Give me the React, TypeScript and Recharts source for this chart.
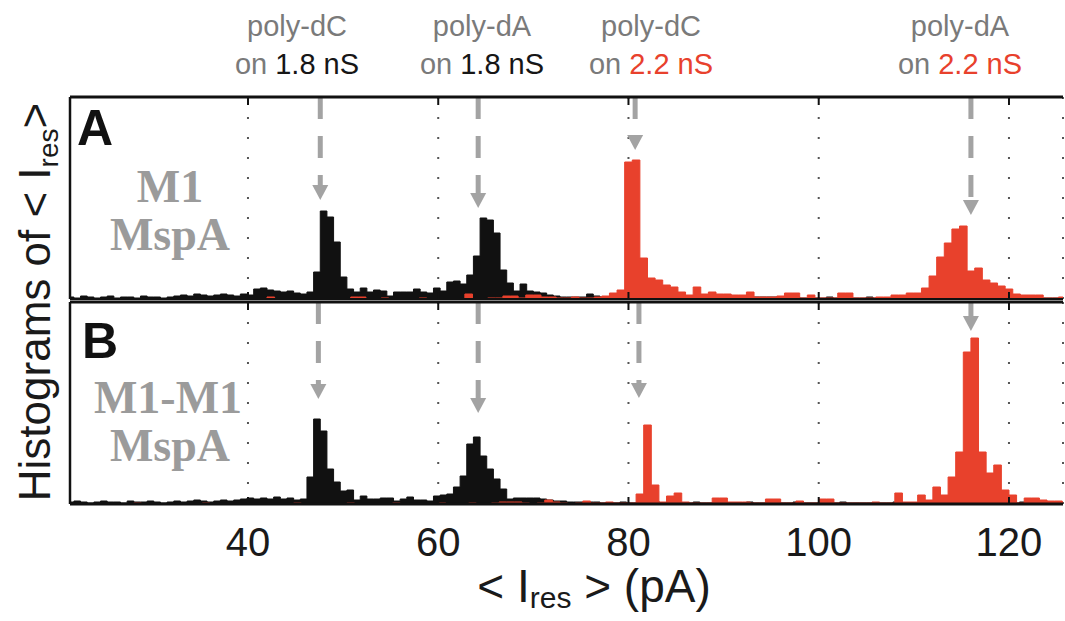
import { AreaChart, Area, XAxis, YAxis, CartesianGrid, ReferenceLine, ReferenceDot } from 'recharts'

// histogram bins (pA)
const BLACK_START = 21.0
const BLACK_BIN = 0.7
const RED_BIN = 0.8
const RED_START_A = 21.2
const RED_START_B = 21.6

const X_DOMAIN = [21.29, 125.68]
const Y_MAX = 202
const xTicks = [40, 60, 80, 100, 120]

// panel A, M1 MspA, 1.8 nS pores (black)
const blackA = [
  2, 1, 3, 2, 1, 2, 3, 1, 2, 2, 1, 3, 2, 2, 1, 2,
  3, 4, 3, 5, 4, 3, 4, 5, 4, 3, 5,
  4, 10, 11, 9, 8, 7, 8, 6, 5, 7,
  27, 88, 82, 57, 22, 10, 7, 11, 7, 9, 8, 3, 7, 7, 7, 10, 7, 6, 11, 8,
  17, 18, 15, 24, 43, 81, 79, 66, 29, 16, 8, 15, 8, 7, 6, 4, 3, 2, 2, 2, 2, 5, 3, 2, 2,
  1, 1, 3, 3, 3, 3,
  1, 2, 1, 1, 2, 1, 1, 1, 2, 1, 1, 1, 2, 1, 1,
  2, 2, 2, 2,
  1, 1, 2, 1, 1, 1, 1, 2, 1, 1, 1, 1, 1, 2, 1, 1, 1, 1, 1, 1, 2, 1, 1, 1, 1, 1, 1, 1,
  2, 3, 2,
  1, 1, 1, 1, 1, 2, 1, 1, 1, 1, 1, 1,
]

// panel A, 2.2 nS pores (red)
const redA = [
  0, 0, 0, 0, 0, 0, 0, 0, 0, 0, 0, 0, 0, 0, 0, 0, 0, 0, 0, 0, 0, 0, 0, 0, 0, 0,
  2,
  0, 0, 0, 0, 0, 0, 0, 0, 0, 0,
  2, 2,
  0, 0, 1, 0, 0, 0, 0, 1, 0, 0, 0, 0, 0,
  5,
  0, 0, 1, 1,
  3, 3,
  1,
  4, 4,
  2, 2,
  1, 1, 2, 1, 1,
  2, 3, 6, 9,
  137, 139, 41, 21, 19, 14, 12, 7, 4, 12, 5, 7,
  5, 5, 4, 4, 7, 2, 2, 2, 3, 6, 6, 1, 4, 1, 1, 1,
  6, 6, 1, 1, 1, 2, 2, 4, 4, 6, 6,
  11, 23, 42, 56, 70, 73, 28, 31, 19, 16, 13, 10, 5, 4, 4, 4, 1, 1, 2,
]

// panel B, M1-M1 MspA, 1.8 nS pores (black)
const blackB = [
  2, 3, 2, 1, 2, 3, 2, 2, 1, 3, 2, 2, 3, 2, 1, 2, 3, 2, 3, 4, 3, 2, 3, 4, 3, 4, 5,
  6, 5, 6, 5, 7, 5, 6, 4, 5,
  27, 85, 73, 35, 22, 13, 14, 4, 8, 5, 5, 6, 6, 3, 5, 7, 4, 4, 3, 8, 9, 10,
  17, 28, 60, 67, 48, 35, 25, 15, 5,
  6, 6, 6, 6, 5, 4, 3, 3, 2,
  2, 2, 2, 2,
  1, 1, 1, 2, 1, 1, 1, 1, 2, 1, 1, 1, 1, 1, 2, 1, 1, 1, 1, 1,
  1, 1, 2, 1, 1, 1, 1, 1, 1, 2, 1, 1, 1, 1, 1, 1, 2, 1, 1, 1, 1, 1, 1, 1, 2, 1, 1, 1, 1, 1,
  1, 1, 2, 1, 1, 1, 2, 1, 1, 1, 1, 1, 1, 2, 1, 1, 1, 1, 1, 1,
]

// panel B, 2.2 nS pores (red)
const redB = [
  0, 0, 0, 0, 0, 0, 0, 0, 1, 0, 0, 0, 0, 0, 0, 0, 0, 1, 0, 0, 0, 0, 0, 0, 0, 0, 0, 0,
  0, 1, 0, 0, 0, 0, 0, 0, 1, 0, 0, 0, 0, 0, 1, 0, 0, 0, 0, 0, 1, 0, 0, 0, 1, 0, 0, 1,
  2, 2, 2,
  1, 0, 1,
  4, 2,
  1, 0, 1, 3,
  1, 1, 2, 1, 1, 1,
  10, 79, 19, 2, 8, 11, 2,
  1, 1, 1, 6, 6, 2, 2, 2, 1, 1,
  5, 5, 1, 1, 3, 1, 1, 5, 5, 1,
  1, 1, 1, 1, 2, 1, 1, 11, 2, 2,
  9, 4, 17, 9, 27, 52, 152, 166, 52, 31, 39, 14, 9,
  1, 6, 6, 4, 3, 3, 2,
]

// dashed arrows: position (pA) and tip height
const arrowXA = [47.6, 64.2, 80.7, 116.0]
const arrowTipA = [99, 91, 149, 84]
const arrowXB = [47.4, 64.2, 81.1, 116.0]
const arrowTipB = [105, 91, 106, 173]

const topLabels = [
  { x: 297, name: 'poly-dC', cond: '1.8 nS', color: '#161616' },
  { x: 482, name: 'poly-dA', cond: '1.8 nS', color: '#161616' },
  { x: 651, name: 'poly-dC', cond: '2.2 nS', color: '#e8412c' },
  { x: 960, name: 'poly-dA', cond: '2.2 nS', color: '#e8412c' },
]

const SANS = "'Liberation Sans', Arial, Helvetica, sans-serif"
const SERIF = "'Liberation Serif', 'Times New Roman', serif"
const RED = '#e8412c'
const BLACK = '#111'
const ARROW = '#a3a3a3'

const toSteps = (start: number, width: number, vals: number[]) => {
  const pts = vals.map((v, i) => ({ x: +(start + i * width).toFixed(2), y: v }))
  pts.push({ x: +(start + vals.length * width).toFixed(2), y: vals[vals.length - 1] })
  return pts
}

const TickDown = ({ x, y }: any) => (
  <line x1={x} x2={x} y1={y} y2={y + 8} stroke={BLACK} strokeWidth={2} />
)
const TickUp = ({ x, y }: any) => (
  <line x1={x} x2={x} y1={y} y2={y - 7} stroke={BLACK} strokeWidth={2} />
)
const TickLabel = ({ x, y, payload }: any) => (
  <g>
    <line x1={x} x2={x} y1={y} y2={y - 7} stroke={BLACK} strokeWidth={2} />
    <text x={x} y={y + 52} textAnchor="middle" fontSize={40} fontFamily={SANS} fill="#1a1a1a">
      {payload.value}
    </text>
  </g>
)

const Head = ({ cx, cy }: any) => (
  <path d={`M${cx - 8},${cy - 15}L${cx + 8},${cy - 15}L${cx},${cy}Z`} fill={ARROW} />
)

const Panel = ({ top, bottomAxis, black, red, redStart, arrowX, arrowTip }: any) => (
  <div style={{ position: 'absolute', left: 0, top }}>
    <AreaChart
      width={1065}
      height={5 + Y_MAX + (bottomAxis || 3)}
      margin={{ top: 4, right: 2, bottom: bottomAxis ? 0 : 2, left: 69 }}
    >
      <CartesianGrid
        xAxisId="b"
        horizontal={false}
        stroke="#555"
        strokeWidth={2}
        strokeDasharray="2 18"
      />
      <XAxis
        xAxisId="t"
        orientation="top"
        dataKey="x"
        type="number"
        domain={X_DOMAIN}
        allowDataOverflow
        ticks={xTicks}
        interval={0}
        height={1}
        tickSize={0}
        tickMargin={0}
        tickLine={false}
        tick={<TickDown />}
        axisLine={{ stroke: BLACK, strokeWidth: 3 }}
      />
      <XAxis
        xAxisId="b"
        dataKey="x"
        type="number"
        domain={X_DOMAIN}
        allowDataOverflow
        ticks={xTicks}
        interval={0}
        height={bottomAxis || 1}
        tickSize={0}
        tickMargin={0}
        tickLine={false}
        tick={bottomAxis ? <TickLabel /> : <TickUp />}
        axisLine={{ stroke: BLACK, strokeWidth: bottomAxis ? 3 : 2 }}
      />
      <YAxis
        type="number"
        domain={[0, Y_MAX]}
        width={1}
        tick={false}
        tickLine={false}
        axisLine={{ stroke: BLACK, strokeWidth: 2.5 }}
      />
      <Area
        xAxisId="b"
        data={toSteps(BLACK_START, BLACK_BIN, black)}
        dataKey="y"
        type="stepAfter"
        baseValue={0}
        fill={BLACK}
        fillOpacity={1}
        stroke={BLACK}
        strokeWidth={1}
        isAnimationActive={false}
      />
      <Area
        xAxisId="b"
        data={toSteps(redStart, RED_BIN, red)}
        dataKey="y"
        type="stepAfter"
        baseValue={0}
        fill={RED}
        fillOpacity={1}
        stroke={RED}
        strokeWidth={1}
        isAnimationActive={false}
      />
      {arrowX.map((x: number, i: number) => (
        <ReferenceLine
          key={`l${i}`}
          xAxisId="b"
          segment={[{ x, y: Y_MAX }, { x, y: arrowTip[i] + 14 }]}
          stroke={ARROW}
          strokeWidth={5}
          strokeDasharray="22 17"
        />
      ))}
      {arrowX.map((x: number, i: number) => (
        <ReferenceDot key={`d${i}`} xAxisId="b" x={x} y={arrowTip[i]} shape={Head} />
      ))}
    </AreaChart>
  </div>
)

const App = () => (
  <div
    style={{
      position: 'absolute',
      left: 0,
      top: 0,
      width: 1065,
      height: 621,
      overflow: 'hidden',
      background: '#fff',
    }}
  >
    <Panel top={92} bottomAxis={0} black={blackA} red={redA} redStart={RED_START_A} arrowX={arrowXA} arrowTip={arrowTipA} />
    <Panel top={297} bottomAxis={120} black={blackB} red={redB} redStart={RED_START_B} arrowX={arrowXB} arrowTip={arrowTipB} />
    <svg width={1065} height={621} style={{ position: 'absolute', left: 0, top: 0, pointerEvents: 'none' }}>
      {topLabels.map((t) => (
        <g key={t.x} fontFamily={SANS} fontSize={29} textAnchor="middle">
          <text x={t.x} y={36} fill="#7a7a7a">{t.name}</text>
          <text x={t.x} y={74} fill="#7a7a7a">
            on <tspan fill={t.color}>{t.cond}</tspan>
          </text>
        </g>
      ))}
      <text x={77} y={145} fontFamily={SANS} fontWeight="bold" fontSize={50} fill={BLACK}>A</text>
      <text x={82} y={358} fontFamily={SANS} fontWeight="bold" fontSize={50} fill={BLACK}>B</text>
      <g fontFamily={SERIF} fontWeight="bold" fontSize={46} fill="#9b9b9b" textAnchor="middle">
        <text x={170} y={202}>M1</text>
        <text x={170} y={250}>MspA</text>
        <text x={168} y={413}>M1-M1</text>
        <text x={170} y={461}>MspA</text>
      </g>
      <text transform="translate(50,302) rotate(-90)" textAnchor="middle" fontFamily={SANS} fontSize={44} fill="#1a1a1a">
        Histograms of {'< I'}
        <tspan fontSize={28} dy={8}>res</tspan>
        <tspan dy={-8}>{'>'}</tspan>
      </text>
      <text x={594} y={602} textAnchor="middle" fontFamily={SANS} fontSize={46} fill="#1a1a1a">
        {'< I'}
        <tspan fontSize={30} dy={6}>res</tspan>
        <tspan dy={-6}>{' > (pA)'}</tspan>
      </text>
    </svg>
  </div>
)

export default App
